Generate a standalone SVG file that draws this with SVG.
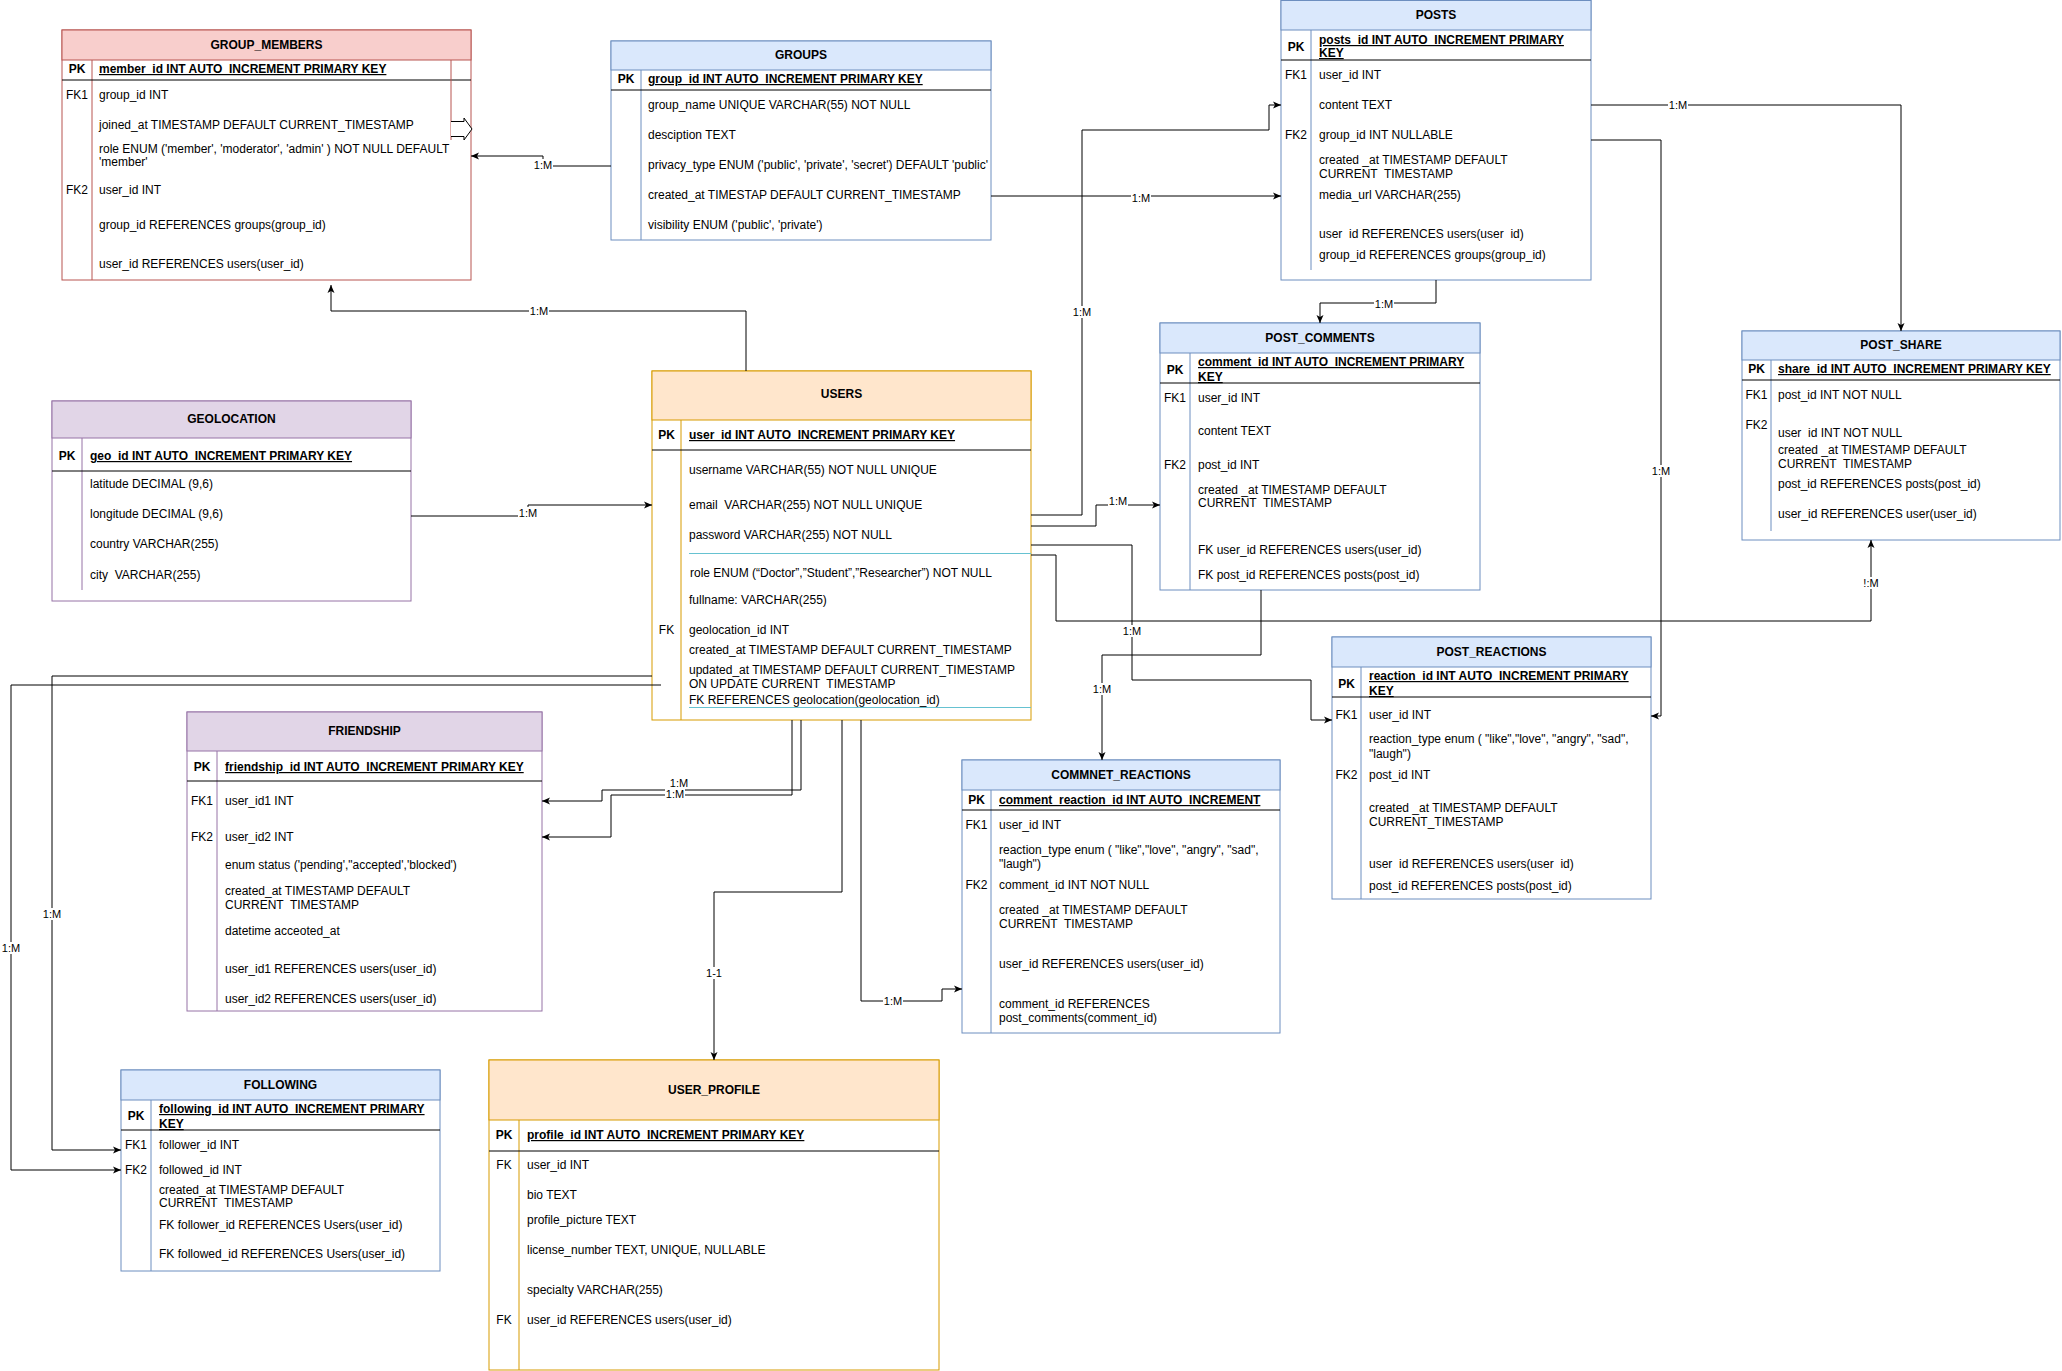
<svg xmlns="http://www.w3.org/2000/svg" width="2062" height="1371" viewBox="0 0 2062 1371">
<style>
text{font-family:"Liberation Sans",Arial,sans-serif;font-size:12px;fill:#000}
.h{font-weight:bold;text-anchor:middle}
.k{text-anchor:middle}
.kb{text-anchor:middle;font-weight:bold}
.p{font-weight:bold;text-decoration:underline}
.l{font-size:11px;text-anchor:middle}
.box{fill:#fff;stroke-width:1}
.red{stroke:#b85450}.redh{fill:#f8cecc;stroke:#b85450}
.blu{stroke:#6c8ebf}.bluh{fill:#dae8fc;stroke:#6c8ebf}
.org{stroke:#d79b00}.orgh{fill:#ffe6cc;stroke:#d79b00}
.pur{stroke:#9673a6}.purh{fill:#e1d5e7;stroke:#9673a6}
.sep{stroke:#000;stroke-width:1}
.cy{stroke:#66c2d1;stroke-width:1}
.edge{fill:none;stroke:#000;stroke-width:1;marker-end:url(#arr)}
.lb{fill:#fff}
</style>
<defs>
<marker id="arr" markerUnits="userSpaceOnUse" markerWidth="8" markerHeight="8" viewBox="0 0 8 8" refX="8" refY="4" orient="auto">
<path d="M0,0.5 L8,4 L0,7.5 L2,4 z" fill="#000"/>
</marker>
</defs>
<rect width="2062" height="1371" fill="#fff"/>

<!-- GROUP_MEMBERS -->
<g id="group_members">
<rect class="box red" x="62" y="30" width="409" height="250"/>
<rect class="redh" x="62" y="30" width="409" height="30"/>
<line class="red" x1="92" y1="60" x2="92" y2="280"/>
<line class="sep" x1="62" y1="80" x2="471" y2="80"/>
<line class="red" x1="451" y1="60" x2="451" y2="140"/>
<path d="M451,121.5 H464 V118 L472,129 L464,140 V136.5 H451" fill="#fff" stroke="#000"/>
<text class="h" x="266.5" y="49">GROUP_MEMBERS</text>
<text class="kb" x="77" y="73">PK</text>
<text class="p" x="99" y="73">member_id INT AUTO_INCREMENT PRIMARY KEY</text>
<text class="k" x="77" y="99">FK1</text>
<text x="99" y="99">group_id INT</text>
<text x="99" y="129">joined_at TIMESTAMP DEFAULT CURRENT_TIMESTAMP</text>
<text x="99" y="153">role ENUM ('member', 'moderator', 'admin' ) NOT NULL DEFAULT</text>
<text x="99" y="166">'member'</text>
<text class="k" x="77" y="194">FK2</text>
<text x="99" y="194">user_id INT</text>
<text x="99" y="229">group_id REFERENCES groups(group_id)</text>
<text x="99" y="268">user_id REFERENCES users(user_id)</text>
</g>

<!-- GROUPS -->
<g id="groups">
<rect class="box blu" x="611" y="41" width="380" height="199"/>
<rect class="bluh" x="611" y="41" width="380" height="29"/>
<line class="blu" x1="641" y1="70" x2="641" y2="240"/>
<line class="sep" x1="611" y1="90" x2="991" y2="90"/>
<text class="h" x="801" y="59">GROUPS</text>
<text class="kb" x="626" y="83">PK</text>
<text class="p" x="648" y="83">group_id INT AUTO_INCREMENT PRIMARY KEY</text>
<text x="648" y="109">group_name UNIQUE VARCHAR(55) NOT NULL</text>
<text x="648" y="139">desciption TEXT</text>
<text x="648" y="169">privacy_type ENUM ('public', 'private', 'secret') DEFAULT 'public'</text>
<text x="648" y="199">created_at TIMESTAP DEFAULT CURRENT_TIMESTAMP</text>
<text x="648" y="229">visibility ENUM ('public', 'private')</text>
</g>

<!-- POSTS -->
<g id="posts">
<rect class="box blu" x="1281" y="0.5" width="310" height="279.5"/>
<rect class="bluh" x="1281" y="0.5" width="310" height="29.5"/>
<line class="blu" x1="1311" y1="30" x2="1311" y2="270"/>
<line class="sep" x1="1281" y1="60" x2="1591" y2="60"/>
<text class="h" x="1436" y="19">POSTS</text>
<text class="kb" x="1296" y="51">PK</text>
<text class="p" x="1319" y="44">posts_id INT AUTO_INCREMENT PRIMARY</text>
<text class="p" x="1319" y="57">KEY</text>
<text class="k" x="1296" y="79">FK1</text>
<text x="1319" y="79">user_id INT</text>
<text x="1319" y="109">content TEXT</text>
<text class="k" x="1296" y="139">FK2</text>
<text x="1319" y="139">group_id INT NULLABLE</text>
<text x="1319" y="164">created _at TIMESTAMP DEFAULT</text>
<text x="1319" y="178" xml:space="preserve">CURRENT  TIMESTAMP</text>
<text x="1319" y="199">media_url VARCHAR(255)</text>
<text x="1319" y="238" xml:space="preserve">user  id REFERENCES users(user  id)</text>
<text x="1319" y="259">group_id REFERENCES groups(group_id)</text>
</g>

<!-- POST_SHARE -->
<g id="post_share">
<rect class="box blu" x="1742" y="331" width="318" height="209"/>
<rect class="bluh" x="1742" y="331" width="318" height="29"/>
<line class="blu" x1="1771" y1="360" x2="1771" y2="531"/>
<line class="sep" x1="1742" y1="380" x2="2060" y2="380"/>
<text class="h" x="1901" y="349">POST_SHARE</text>
<text class="kb" x="1756.5" y="373">PK</text>
<text class="p" x="1778" y="373">share_id INT AUTO_INCREMENT PRIMARY KEY</text>
<text class="k" x="1756.5" y="399">FK1</text>
<text x="1778" y="399">post_id INT NOT NULL</text>
<text class="k" x="1756.5" y="429">FK2</text>
<text x="1778" y="437" xml:space="preserve">user  id INT NOT NULL</text>
<text x="1778" y="454">created _at TIMESTAMP DEFAULT</text>
<text x="1778" y="468" xml:space="preserve">CURRENT  TIMESTAMP</text>
<text x="1778" y="488">post_id REFERENCES posts(post_id)</text>
<text x="1778" y="518">user_id REFERENCES user(user_id)</text>
</g>

<!-- POST_COMMENTS -->
<g id="post_comments">
<rect class="box blu" x="1160" y="323" width="320" height="267"/>
<rect class="bluh" x="1160" y="323" width="320" height="30"/>
<line class="blu" x1="1190" y1="353" x2="1190" y2="590"/>
<line class="sep" x1="1160" y1="383" x2="1480" y2="383"/>
<text class="h" x="1320" y="342">POST_COMMENTS</text>
<text class="kb" x="1175" y="374">PK</text>
<text class="p" x="1198" y="366">comment_id INT AUTO_INCREMENT PRIMARY</text>
<text class="p" x="1198" y="381">KEY</text>
<text class="k" x="1175" y="402">FK1</text>
<text x="1198" y="402">user_id INT</text>
<text x="1198" y="435">content TEXT</text>
<text class="k" x="1175" y="469">FK2</text>
<text x="1198" y="469">post_id INT</text>
<text x="1198" y="494">created _at TIMESTAMP DEFAULT</text>
<text x="1198" y="507" xml:space="preserve">CURRENT  TIMESTAMP</text>
<text x="1198" y="554">FK user_id REFERENCES users(user_id)</text>
<text x="1198" y="579">FK post_id REFERENCES posts(post_id)</text>
</g>

<!-- USERS -->
<g id="users">
<rect class="box org" x="652" y="371" width="379" height="349"/>
<rect class="orgh" x="652" y="371" width="379" height="49"/>
<line class="org" x1="681" y1="420" x2="681" y2="720"/>
<line class="sep" x1="652" y1="450" x2="1031" y2="450"/>
<line class="cy" x1="689" y1="553.5" x2="1031" y2="553.5"/>
<line class="cy" x1="689" y1="707.5" x2="1031" y2="707.5"/>
<text class="h" x="841.5" y="398">USERS</text>
<text class="kb" x="666.5" y="439">PK</text>
<text class="p" x="689" y="439">user_id INT AUTO_INCREMENT PRIMARY KEY</text>
<text x="689" y="474">username VARCHAR(55) NOT NULL UNIQUE</text>
<text x="689" y="509" xml:space="preserve">email  VARCHAR(255) NOT NULL UNIQUE</text>
<text x="689" y="539">password VARCHAR(255) NOT NULL</text>
<text x="690" y="577">role ENUM (“Doctor”,”Student”,”Researcher”) NOT NULL</text>
<text x="689" y="604">fullname: VARCHAR(255)</text>
<text class="k" x="666.5" y="634">FK</text>
<text x="689" y="634">geolocation_id INT</text>
<text x="689" y="654">created_at TIMESTAMP DEFAULT CURRENT_TIMESTAMP</text>
<text x="689" y="674">updated_at TIMESTAMP DEFAULT CURRENT_TIMESTAMP</text>
<text x="689" y="688" xml:space="preserve">ON UPDATE CURRENT  TIMESTAMP</text>
<text x="689" y="704">FK REFERENCES geolocation(geolocation_id)</text>
</g>

<!-- GEOLOCATION -->
<g id="geolocation">
<rect class="box pur" x="52" y="401" width="359" height="200"/>
<rect class="purh" x="52" y="401" width="359" height="37"/>
<line class="pur" x1="82" y1="438" x2="82" y2="590"/>
<line class="sep" x1="52" y1="471" x2="411" y2="471"/>
<text class="h" x="231.5" y="423">GEOLOCATION</text>
<text class="kb" x="67" y="460">PK</text>
<text class="p" x="90" y="460">geo_id INT AUTO_INCREMENT PRIMARY KEY</text>
<text x="90" y="488">latitude DECIMAL (9,6)</text>
<text x="90" y="518">longitude DECIMAL (9,6)</text>
<text x="90" y="548">country VARCHAR(255)</text>
<text x="90" y="579" xml:space="preserve">city  VARCHAR(255)</text>
</g>

<!-- POST_REACTIONS -->
<g id="post_reactions">
<rect class="box blu" x="1332" y="637" width="319" height="262"/>
<rect class="bluh" x="1332" y="637" width="319" height="30"/>
<line class="blu" x1="1361" y1="667" x2="1361" y2="899"/>
<line class="sep" x1="1332" y1="697" x2="1651" y2="697"/>
<text class="h" x="1491.5" y="656">POST_REACTIONS</text>
<text class="kb" x="1346.5" y="688">PK</text>
<text class="p" x="1369" y="680">reaction_id INT AUTO_INCREMENT PRIMARY</text>
<text class="p" x="1369" y="695">KEY</text>
<text class="k" x="1346.5" y="719">FK1</text>
<text x="1369" y="719">user_id INT</text>
<text x="1369" y="743">reaction_type enum ( "like","love", "angry", "sad",</text>
<text x="1369" y="758">"laugh")</text>
<text class="k" x="1346.5" y="779">FK2</text>
<text x="1369" y="779">post_id INT</text>
<text x="1369" y="812">created _at TIMESTAMP DEFAULT</text>
<text x="1369" y="826">CURRENT_TIMESTAMP</text>
<text x="1369" y="868" xml:space="preserve">user  id REFERENCES users(user  id)</text>
<text x="1369" y="890">post_id REFERENCES posts(post_id)</text>
</g>

<!-- FRIENDSHIP -->
<g id="friendship">
<rect class="box pur" x="187" y="712" width="355" height="299"/>
<rect class="purh" x="187" y="712" width="355" height="39"/>
<line class="pur" x1="217" y1="751" x2="217" y2="1011"/>
<line class="sep" x1="187" y1="781" x2="542" y2="781"/>
<text class="h" x="364.5" y="735">FRIENDSHIP</text>
<text class="kb" x="202" y="771">PK</text>
<text class="p" x="225" y="771">friendship_id INT AUTO_INCREMENT PRIMARY KEY</text>
<text class="k" x="202" y="805">FK1</text>
<text x="225" y="805">user_id1 INT</text>
<text class="k" x="202" y="841">FK2</text>
<text x="225" y="841">user_id2 INT</text>
<text x="225" y="869">enum status ('pending',"accepted','blocked')</text>
<text x="225" y="895">created_at TIMESTAMP DEFAULT</text>
<text x="225" y="909" xml:space="preserve">CURRENT  TIMESTAMP</text>
<text x="225" y="935">datetime acceoted_at</text>
<text x="225" y="973">user_id1 REFERENCES users(user_id)</text>
<text x="225" y="1003">user_id2 REFERENCES users(user_id)</text>
</g>

<!-- COMMNET_REACTIONS -->
<g id="comment_reactions">
<rect class="box blu" x="962" y="760" width="318" height="273"/>
<rect class="bluh" x="962" y="760" width="318" height="30"/>
<line class="blu" x1="991" y1="790" x2="991" y2="1033"/>
<line class="sep" x1="962" y1="810" x2="1280" y2="810"/>
<text class="h" x="1121" y="779">COMMNET_REACTIONS</text>
<text class="kb" x="976.5" y="804">PK</text>
<text class="p" x="999" y="804">comment_reaction_id INT AUTO_INCREMENT</text>
<text class="k" x="976.5" y="829">FK1</text>
<text x="999" y="829">user_id INT</text>
<text x="999" y="854">reaction_type enum ( "like","love", "angry", "sad",</text>
<text x="999" y="868">"laugh")</text>
<text class="k" x="976.5" y="889">FK2</text>
<text x="999" y="889">comment_id INT NOT NULL</text>
<text x="999" y="914">created _at TIMESTAMP DEFAULT</text>
<text x="999" y="928" xml:space="preserve">CURRENT  TIMESTAMP</text>
<text x="999" y="968">user_id REFERENCES users(user_id)</text>
<text x="999" y="1008">comment_id REFERENCES</text>
<text x="999" y="1022">post_comments(comment_id)</text>
</g>

<!-- FOLLOWING -->
<g id="following">
<rect class="box blu" x="121" y="1070" width="319" height="201"/>
<rect class="bluh" x="121" y="1070" width="319" height="30"/>
<line class="blu" x1="151" y1="1100" x2="151" y2="1271"/>
<line class="sep" x1="121" y1="1130" x2="440" y2="1130"/>
<text class="h" x="280.5" y="1089">FOLLOWING</text>
<text class="kb" x="136" y="1120">PK</text>
<text class="p" x="159" y="1113">following_id INT AUTO_INCREMENT PRIMARY</text>
<text class="p" x="159" y="1128">KEY</text>
<text class="k" x="136" y="1149">FK1</text>
<text x="159" y="1149">follower_id INT</text>
<text class="k" x="136" y="1174">FK2</text>
<text x="159" y="1174">followed_id INT</text>
<text x="159" y="1194">created_at TIMESTAMP DEFAULT</text>
<text x="159" y="1207" xml:space="preserve">CURRENT  TIMESTAMP</text>
<text x="159" y="1229">FK follower_id REFERENCES Users(user_id)</text>
<text x="159" y="1258">FK followed_id REFERENCES Users(user_id)</text>
</g>

<!-- USER_PROFILE -->
<g id="user_profile">
<rect class="box org" x="489" y="1060" width="450" height="310"/>
<rect class="orgh" x="489" y="1060" width="450" height="60"/>
<line class="org" x1="519" y1="1120" x2="519" y2="1370"/>
<line class="sep" x1="489" y1="1151" x2="939" y2="1151"/>
<text class="h" x="714" y="1094">USER_PROFILE</text>
<text class="kb" x="504" y="1139">PK</text>
<text class="p" x="527" y="1139">profile_id INT AUTO_INCREMENT PRIMARY KEY</text>
<text class="k" x="504" y="1169">FK</text>
<text x="527" y="1169">user_id INT</text>
<text x="527" y="1199">bio TEXT</text>
<text x="527" y="1224">profile_picture TEXT</text>
<text x="527" y="1254">license_number TEXT, UNIQUE, NULLABLE</text>
<text x="527" y="1294">specialty VARCHAR(255)</text>
<text class="k" x="504" y="1324">FK</text>
<text x="527" y="1324">user_id REFERENCES users(user_id)</text>
</g>

<!-- relationships -->
<g id="connectors">
<path class="edge" d="M611,166 H543 V156 H471"/>
<path class="edge" d="M746,371 V311 H331 V285"/>
<path class="edge" d="M411,516 H528 V505 H652"/>
<path class="edge" d="M1031,515 H1082 V130 H1269 V105 H1281"/>
<path class="edge" d="M991,196 H1281"/>
<path class="edge" d="M1436,280 V303 H1320 V323"/>
<path class="edge" d="M1591,105 H1901 V331"/>
<path class="edge" d="M1591,140 H1661 V716 H1651"/>
<path class="edge" d="M1031,526 H1096 V505 H1160"/>
<path class="edge" d="M1031,545 H1132 V680 H1311 V720 H1332"/>
<path class="edge" d="M1031,555 H1056 V621 H1871 V540"/>
<path class="edge" d="M1261,590 V655 H1102 V760"/>
<path class="edge" d="M861,720 V1001 H942 V989 H962"/>
<path class="edge" d="M842,720 V892 H714 V1060"/>
<path class="edge" d="M801,720 V790 H602 V801 H542"/>
<path class="edge" d="M792,720 V795 H611 V837 H542"/>
<path class="edge" d="M652,676 H52 V1150 H121"/>
<path class="edge" d="M661,685 H11 V1170 H121"/>
</g>

<!-- relationship labels -->
<g id="edge-labels">
<rect class="lb" x="533" y="159" width="20" height="12"/><text class="l" x="543" y="169">1:M</text>
<rect class="lb" x="529" y="305" width="20" height="12"/><text class="l" x="539" y="315">1:M</text>
<rect class="lb" x="518" y="507" width="20" height="12"/><text class="l" x="528" y="517">1:M</text>
<rect class="lb" x="1072" y="306" width="20" height="12"/><text class="l" x="1082" y="316">1:M</text>
<rect class="lb" x="1131" y="192" width="20" height="12"/><text class="l" x="1141" y="202">1:M</text>
<rect class="lb" x="1374" y="298" width="20" height="12"/><text class="l" x="1384" y="308">1:M</text>
<rect class="lb" x="1668" y="99" width="20" height="12"/><text class="l" x="1678" y="109">1:M</text>
<rect class="lb" x="1651" y="465" width="20" height="12"/><text class="l" x="1661" y="475">1:M</text>
<rect class="lb" x="1108" y="495" width="20" height="12"/><text class="l" x="1118" y="505">1:M</text>
<rect class="lb" x="1122" y="625" width="20" height="12"/><text class="l" x="1132" y="635">1:M</text>
<rect class="lb" x="1861" y="577" width="20" height="12"/><text class="l" x="1871" y="587">!:M</text>
<rect class="lb" x="1092" y="683" width="20" height="12"/><text class="l" x="1102" y="693">1:M</text>
<rect class="lb" x="883" y="995" width="20" height="12"/><text class="l" x="893" y="1005">1:M</text>
<rect class="lb" x="704" y="967" width="20" height="12"/><text class="l" x="714" y="977">1-1</text>
<rect class="lb" x="669" y="777" width="20" height="12"/><text class="l" x="679" y="787">1:M</text>
<rect class="lb" x="665" y="788" width="20" height="12"/><text class="l" x="675" y="798">1:M</text>
<rect class="lb" x="42" y="908" width="20" height="12"/><text class="l" x="52" y="918">1:M</text>
<rect class="lb" x="1" y="942" width="20" height="12"/><text class="l" x="11" y="952">1:M</text>
</g>
</svg>
